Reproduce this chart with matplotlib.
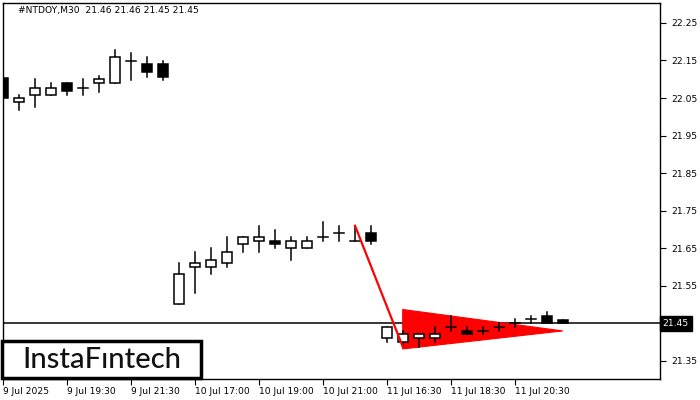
import matplotlib
matplotlib.use("Agg")
import matplotlib.pyplot as plt
from matplotlib.patches import Rectangle, Polygon

# 30-minute candles, #NTDOY
opens = [22.104, 22.039, 22.058, 22.058, 22.090, 22.078, 22.090, 22.090, 22.149, 22.140, 22.140,
         21.502, 21.600, 21.600, 21.611, 21.661, 21.670, 21.670, 21.651, 21.651, 21.680, 21.691,
         21.670, 21.691,
         21.411, 21.401, 21.411, 21.411, 21.441, 21.431, 21.431, 21.441, 21.451, 21.461, 21.469, 21.460]
highs = [22.112, 22.058, 22.100, 22.090, 22.090, 22.100, 22.109, 22.177, 22.169, 22.158, 22.148,
         21.611, 21.640, 21.651, 21.680, 21.679, 21.709, 21.700, 21.680, 21.680, 21.720, 21.709,
         21.709, 21.710,
         21.441, 21.431, 21.422, 21.441, 21.471, 21.441, 21.441, 21.451, 21.461, 21.471, 21.481, 21.460]
lows = [22.029, 22.019, 22.027, 22.058, 22.058, 22.058, 22.067, 22.090, 22.099, 22.107, 22.098,
        21.502, 21.530, 21.582, 21.600, 21.640, 21.640, 21.651, 21.620, 21.651, 21.670, 21.670,
        21.670, 21.661,
        21.400, 21.388, 21.388, 21.401, 21.429, 21.422, 21.422, 21.431, 21.440, 21.451, 21.451, 21.450]
closes = [22.050, 22.050, 22.078, 22.078, 22.068, 22.078, 22.100, 22.158, 22.149, 22.119, 22.107,
          21.582, 21.611, 21.620, 21.640, 21.679, 21.679, 21.661, 21.670, 21.670, 21.680, 21.691,
          21.670, 21.670,
          21.441, 21.422, 21.422, 21.422, 21.441, 21.422, 21.431, 21.441, 21.451, 21.461, 21.451, 21.450]

tick_bars = [0, 4, 8, 12, 16, 20, 24, 28, 32]
tick_labels = ["9 Jul 2025", "9 Jul 19:30", "9 Jul 21:30", "10 Jul 17:00", "10 Jul 19:00",
               "10 Jul 21:00", "11 Jul 16:30", "11 Jul 18:30", "11 Jul 20:30"]
price_ticks = [21.35, 21.45, 21.55, 21.65, 21.75, 21.85, 21.95, 22.05, 22.15, 22.25]

last_price = 21.45
# bearish pennant: flagpole and triangle (bar index, price)
pole_x = [21.98, 24.98]
pole_y = [21.710, 21.386]
pennant_x = [24.96, 24.96, 34.96]
pennant_y = [21.487, 21.382, 21.430]

fig = plt.figure(figsize=(7, 4), dpi=100)
ax = fig.add_axes([3 / 700, 21 / 400, 657 / 700, 376 / 400])

body_w = 0.62
for i, (o, h, l, c) in enumerate(zip(opens, highs, lows, closes)):
    ax.plot([i, i], [l, h], color="black", lw=1.1, zorder=3)
    bottom = min(o, c)
    height = abs(c - o)
    if height < 0.002:
        ax.plot([i - body_w / 2, i + body_w / 2], [o, o], color="black", lw=1.1, zorder=3)
        continue
    face = "white" if c > o else "black"
    ax.add_patch(Rectangle((i - body_w / 2, bottom), body_w, height,
                           facecolor=face, edgecolor="black", lw=1.1, zorder=4))

ax.add_patch(Polygon(list(zip(pennant_x, pennant_y)), closed=True,
                     facecolor="red", edgecolor="red", lw=0.8, zorder=2))
ax.plot(pole_x, pole_y, color="red", lw=1.6, zorder=5)

ax.axhline(last_price, color="black", lw=1.1, zorder=1)

ymin, ymax = 21.302, 22.303
ax.set_xlim(-0.02, 41.04)
ax.set_ylim(ymin, ymax)

ax.yaxis.tick_right()
ax.set_yticks(price_ticks)
# the last-price box takes the place of the 21.45 label
ax.set_yticklabels(["" if abs(p - last_price) < 1e-6 else f"{p:.2f}" for p in price_ticks])
ax.set_xticks(tick_bars)
ax.set_xticklabels(tick_labels, ha="left")
ax.tick_params(axis="both", direction="out", length=4, width=0.8, labelsize=6.6, pad=2)
ax.tick_params(axis="y", pad=4)
for s in ax.spines.values():
    s.set_linewidth(1.0)

ax.text(1.004, (last_price - ymin) / (ymax - ymin), f"{last_price:.2f}",
        transform=ax.transAxes, ha="left", va="center", fontsize=6.6, color="white",
        bbox=dict(boxstyle="square,pad=0.3", facecolor="black", edgecolor="black"), zorder=6)

fig.text(18 / 700, 1 - 10 / 400, "#NTDOY,M30  21.46 21.46 21.45 21.45",
         fontsize=6.6, va="center", ha="left")

# logo box
fig.patches.append(Rectangle((2 / 700, 22 / 400), 199 / 700, 37 / 400, transform=fig.transFigure,
                             facecolor="white", edgecolor="black", lw=2.5, zorder=10))
fig.text(102 / 700, 40 / 400, "InstaFıntech", fontsize=21, family="Lato", fontweight="medium",
         ha="center", va="center", color="#111111", zorder=11)

fig.savefig("out.png", dpi=100)
